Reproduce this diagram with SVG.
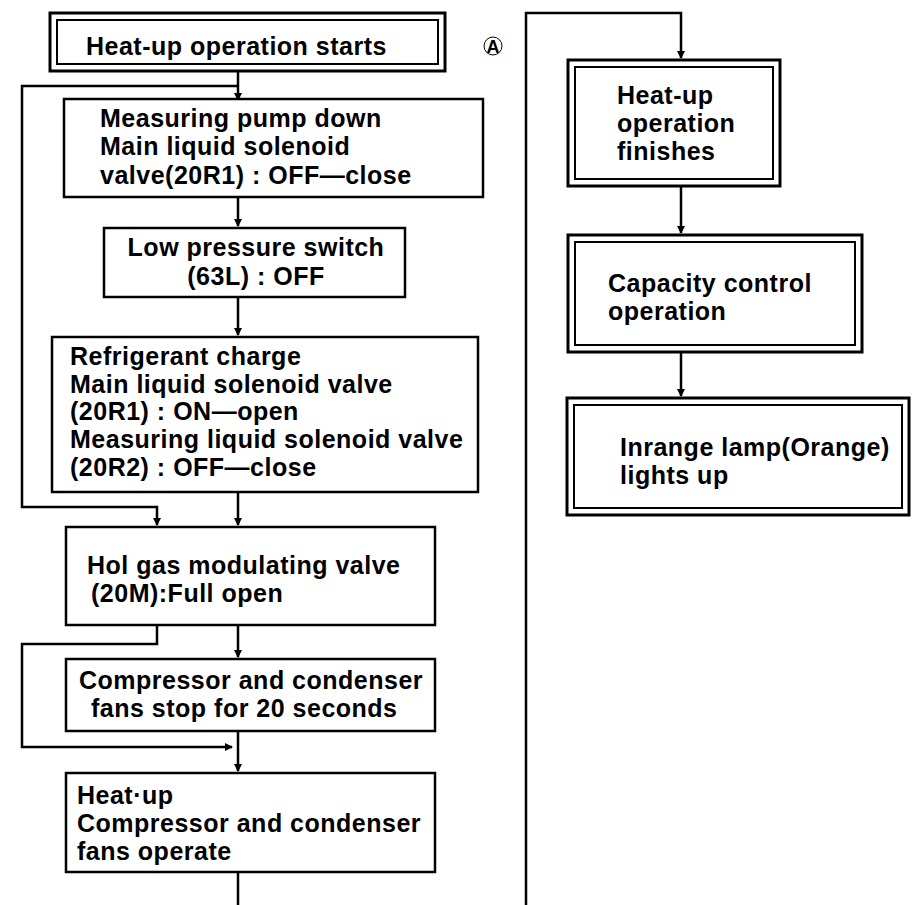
<svg xmlns="http://www.w3.org/2000/svg" width="912" height="905" viewBox="0 0 912 905">
<style>
.b{fill:#fff;stroke:#000;stroke-width:2.5}
.o{fill:#fff;stroke:#000;stroke-width:3}
.i{fill:none;stroke:#000;stroke-width:2}
.c{fill:none;stroke:#000;stroke-width:2.5}
text{font-family:"Liberation Sans",Arial,sans-serif;font-weight:bold;font-size:25px;letter-spacing:0.5px;fill:#000}
</style>
<defs>
<marker id="ah" markerWidth="8" markerHeight="8" refX="7" refY="4" orient="auto" markerUnits="userSpaceOnUse">
<path d="M0,0 L8,4 L0,8 Z" fill="#000"/>
</marker>
</defs>
<rect width="912" height="905" fill="#fff"/>
<g id="connectors">
<path class="c" d="M238,72 V100" marker-end="url(#ah)"/>
<path class="c" d="M238,86 H22 V507 H157 V525" marker-end="url(#ah)"/>
<path class="c" d="M238,198 V226" marker-end="url(#ah)"/>
<path class="c" d="M238,297 V335" marker-end="url(#ah)"/>
<path class="c" d="M238,492 V525" marker-end="url(#ah)"/>
<path class="c" d="M238,625 V657" marker-end="url(#ah)"/>
<path class="c" d="M157,625 V644 H22 V747 H232" marker-end="url(#ah)"/>
<path class="c" d="M238,731 V771" marker-end="url(#ah)"/>
<path class="c" d="M238,872 V905"/>
<path class="c" d="M526,905 V13 H681 V58" marker-end="url(#ah)"/>
<path class="c" d="M681,186 V233" marker-end="url(#ah)"/>
<path class="c" d="M681,352 V396" marker-end="url(#ah)"/>
</g>
<g id="start">
<rect class="o" x="50" y="13" width="395" height="58"/>
<rect class="i" x="57" y="20" width="381" height="44"/>
<text x="86" y="55">Heat-up operation starts</text>
<circle cx="493" cy="46" r="9" fill="none" stroke="#000" stroke-width="1"/>
<text x="493" y="53" text-anchor="middle" style="font-size:18px;letter-spacing:0">A</text>
</g>
<g id="pumpdown">
<rect class="b" x="64" y="99" width="419" height="98"/>
<text x="100" y="127">Measuring pump down</text>
<text x="100" y="155">Main liquid solenoid</text>
<text x="100" y="184">valve(20R1) : OFF—close</text>
</g>
<g id="lowpressure">
<rect class="b" x="104" y="228" width="301" height="69"/>
<text x="256" y="256" text-anchor="middle">Low pressure switch</text>
<text x="256" y="285" text-anchor="middle">(63L) : OFF</text>
</g>
<g id="charge">
<rect class="b" x="52" y="337" width="426" height="155"/>
<text x="70" y="365">Refrigerant charge</text>
<text x="70" y="393">Main liquid solenoid valve</text>
<text x="70" y="420">(20R1) : ON—open</text>
<text x="70" y="448">Measuring liquid solenoid valve</text>
<text x="70" y="476">(20R2) : OFF—close</text>
</g>
<g id="hotgas">
<rect class="b" x="66" y="527" width="369" height="98"/>
<text x="87" y="574">Hol gas modulating valve</text>
<text x="91" y="602">(20M):Full open</text>
</g>
<g id="stop">
<rect class="b" x="66" y="659" width="369" height="72"/>
<text x="79" y="689">Compressor and condenser</text>
<text x="91" y="717">fans stop for 20 seconds</text>
</g>
<g id="heatup">
<rect class="b" x="66" y="773" width="369" height="99"/>
<text x="77" y="804">Heat·up</text>
<text x="77" y="832">Compressor and condenser</text>
<text x="77" y="860">fans operate</text>
</g>
<g id="finishes">
<rect class="o" x="568" y="60" width="212" height="126"/>
<rect class="i" x="575" y="67" width="198" height="112"/>
<text x="617" y="104">Heat-up</text>
<text x="617" y="132">operation</text>
<text x="617" y="160">finishes</text>
</g>
<g id="capacity">
<rect class="o" x="568" y="235" width="294" height="117"/>
<rect class="i" x="575" y="242" width="280" height="103"/>
<text x="608" y="292">Capacity control</text>
<text x="608" y="320">operation</text>
</g>
<g id="inrange">
<rect class="o" x="567" y="398" width="342" height="117"/>
<rect class="i" x="574" y="405" width="328" height="103"/>
<text x="620" y="456">Inrange lamp(Orange)</text>
<text x="620" y="484">lights up</text>
</g>
</svg>
